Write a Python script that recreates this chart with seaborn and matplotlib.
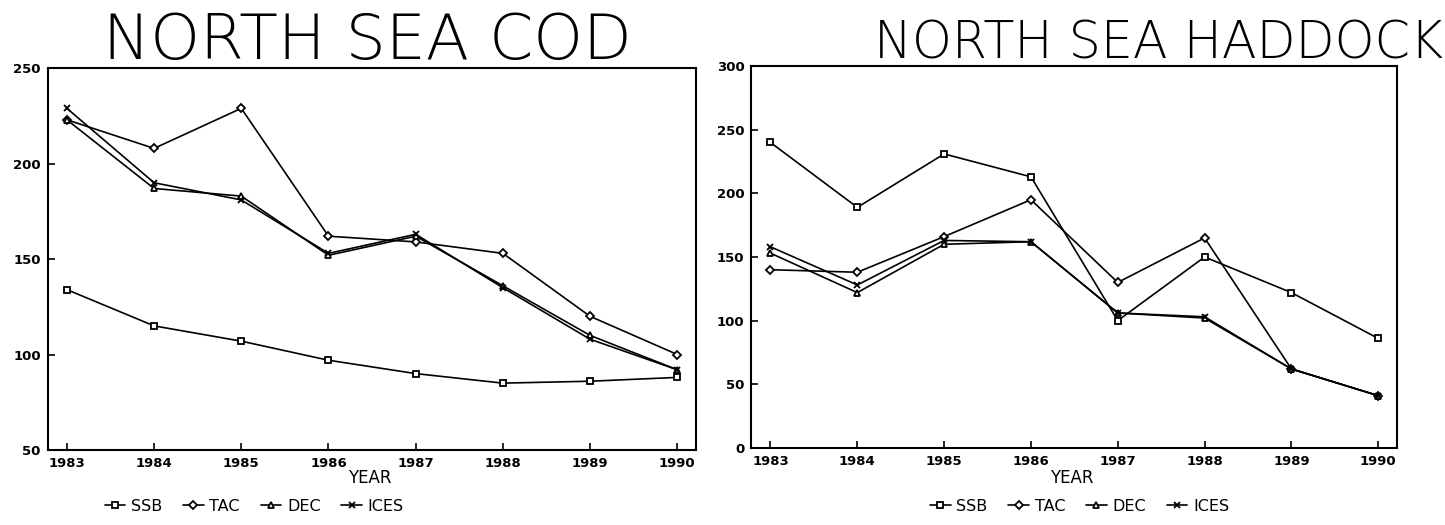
import matplotlib
matplotlib.use("Agg")
import matplotlib.pyplot as plt
import seaborn as sns
import pandas as pd

years = [1983, 1984, 1985, 1986, 1987, 1988, 1989, 1990]

cod_ssb = [134, 115, 107, 97, 90, 85, 86, 88]
cod_tac = [223, 208, 229, 162, 159, 153, 120, 100]
cod_dec = [223, 187, 183, 152, 162, 136, 110, 92]
cod_ices = [229, 190, 181, 153, 163, 135, 108, 92]

had_ssb = [240, 189, 231, 213, 100, 150, 122, 86]
had_tac = [140, 138, 166, 195, 130, 165, 62, 41]
had_dec = [153, 122, 160, 162, 106, 102, 62, 41]
had_ices = [158, 128, 163, 162, 106, 103, 62, 41]

series_names = ["SSB", "TAC", "DEC", "ICES"]
titles = ["NORTH SEA COD", "NORTH SEA HADDOCK"]
xlabel = "YEAR"
cod_yticks = [50, 100, 150, 200, 250]
had_yticks = [0, 50, 100, 150, 200, 250, 300]

sns.set_style("ticks")
plt.rcParams["font.family"] = ["DejaVu Sans"]
plt.rcParams["text.color"] = "black"
plt.rcParams["xtick.color"] = "black"
plt.rcParams["ytick.color"] = "black"

markers = {"SSB": "s", "TAC": "D", "DEC": "^", "ICES": "x"}
msize = {"SSB": 7, "TAC": 6, "DEC": 7, "ICES": 8}

fig = plt.figure(figsize=(14.45, 5.25), dpi=100)
ax1 = fig.add_axes([0.033, 0.143, 0.449, 0.727])
ax2 = fig.add_axes([0.520, 0.147, 0.447, 0.727])

def draw(ax, data, yticks, ylim):
    for name, vals in zip(series_names, data):
        df = pd.DataFrame({"year": years, "value": vals})
        sns.lineplot(data=df, x="year", y="value", ax=ax, color="black",
                     linewidth=1.4, marker=markers[name], markersize=msize[name],
                     markerfacecolor="white" if name != "ICES" else "black",
                     markeredgecolor="black", markeredgewidth=1.3, label=name,
                     legend=False)
    ax.set_xlim(1982.78, 1990.22)
    ax.set_ylim(*ylim)
    ax.set_xticks(years)
    ax.set_xticklabels([str(y) for y in years], fontsize=9.5, fontweight="bold")
    ax.set_yticks(yticks)
    ax.set_yticklabels([str(v) for v in yticks], fontsize=9.5, fontweight="bold")
    ax.tick_params(direction="in", length=5, width=1.2, pad=5)
    for s in ax.spines.values():
        s.set_linewidth(1.5)
        s.set_color("black")
    ax.set_xlabel("")
    ax.set_ylabel("")

draw(ax1, [cod_ssb, cod_tac, cod_dec, cod_ices], cod_yticks, (50, 250))
draw(ax2, [had_ssb, had_tac, had_dec, had_ices], had_yticks, (0, 300))

for txt, xc, fs in [(titles[0], 0.2545, 45.5), (titles[1], 0.8015, 36.5)]:
    fig.text(xc, 0.888, txt, fontsize=fs, fontweight="ultralight",
             ha="center", va="baseline", family=["DejaVu Sans"],
             color="black")

fig.text(0.256, 0.09, xlabel, fontsize=12, ha="center", va="center")
fig.text(0.742, 0.09, xlabel, fontsize=12, ha="center", va="center")

for ax, xc in [(ax1, 0.176), (ax2, 0.747)]:
    handles, labels = ax.get_legend_handles_labels()
    for h in handles:
        h.set_markersize(4.5)
        h.set_linewidth(1.2)
    fig.legend(handles, labels, loc="center", bbox_to_anchor=(xc, 0.036),
               ncol=4, frameon=False, fontsize=11.5, handlelength=1.3,
               handletextpad=0.35, columnspacing=1.3)

fig.savefig("out.png", dpi=100, facecolor="white")
